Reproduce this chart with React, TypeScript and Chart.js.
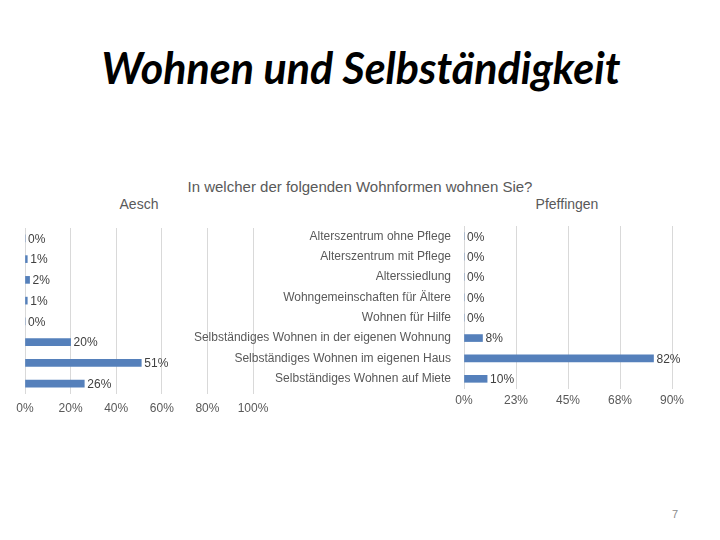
import React, { useEffect, useRef } from "react";
import { Chart, registerables } from "chart.js";

Chart.register(...registerables);

const categories = [
  "Alterszentrum ohne Pflege",
  "Alterszentrum mit Pflege",
  "Alterssiedlung",
  "Wohngemeinschaften für Ältere",
  "Wohnen für Hilfe",
  "Selbständiges Wohnen in der eigenen Wohnung",
  "Selbständiges Wohnen im eigenen Haus",
  "Selbständiges Wohnen auf Miete",
];
const aeschValues = [0, 1, 2, 1, 0, 20, 51, 26];
const pfeffingenValues = [0, 0, 0, 0, 0, 8, 82, 10];
const aeschMax = 100;
const aeschStep = 20;
const pfeffingenMax = 90;
const pfeffingenStep = 22.5;

const slideTitle = "Wohnen und Selbständigkeit";
const chartQuestion = "In welcher der folgenden Wohnformen wohnen Sie?";
const aeschTitle = "Aesch";
const pfeffingenTitle = "Pfeffingen";
const pageNumber = "7";

const FONT = '"Liberation Sans", Arial, sans-serif';
const BAR = "#5580bb";
const GRID = "#d9d9d9";
const AXIS_TEXT = "#595959";
const LABEL_TEXT = "#404040";

const valueLabels = {
  id: "valueLabels",
  afterDatasetsDraw(chart: any) {
    const ctx = chart.ctx;
    const meta = chart.getDatasetMeta(0);
    const data = chart.data.datasets[0].data;
    ctx.save();
    ctx.font = `12px ${FONT}`;
    ctx.fillStyle = LABEL_TEXT;
    ctx.textBaseline = "middle";
    ctx.textAlign = "left";
    meta.data.forEach((bar: any, i: number) => {
      ctx.fillText(`${data[i]}%`, bar.x + 3, bar.y + 1);
    });
    ctx.restore();
  },
};

function makeChart(
  canvas: HTMLCanvasElement,
  values: number[],
  max: number,
  step: number,
  showLabels: boolean,
  yWidth: number,
  padding: { top: number; right: number; bottom: number; left: number },
  xHeight: number,
  xPad: number
) {
  return new Chart(canvas, {
    type: "bar",
    data: {
      labels: categories,
      datasets: [
        {
          data: values,
          backgroundColor: BAR,
          barThickness: 7,
        },
      ],
    },
    plugins: [valueLabels],
    options: {
      indexAxis: "y",
      animation: false,
      responsive: false,
      layout: { padding },
      plugins: {
        legend: { display: false },
        tooltip: { enabled: false },
        title: { display: false },
      },
      scales: {
        x: {
          min: 0,
          max,
          afterBuildTicks: (scale: any) => {
            const t = [];
            for (let v = 0; v <= max + 1e-9; v += step) t.push({ value: v });
            scale.ticks = t;
          },
          afterFit: (scale: any) => {
            scale.height = xHeight;
          },
          grid: { color: GRID, drawTicks: false, lineWidth: 1 },
          border: { display: false },
          ticks: {
            color: AXIS_TEXT,
            font: { family: FONT, size: 12 },
            padding: xPad,
            maxRotation: 0,
            autoSkip: false,
            callback: (v: any) => `${Math.round(Number(v))}%`,
          },
        },
        y: {
          afterFit: (scale: any) => {
            scale.width = yWidth;
            scale.paddingTop = 0;
            scale.paddingBottom = 0;
          },
          grid: { display: false, drawTicks: false },
          border: { display: false },
          ticks: {
            display: showLabels,
            autoSkip: false,
            color: AXIS_TEXT,
            font: { family: FONT, size: 12 },
            padding: 13,
          },
        },
      },
    } as any,
  });
}

export default function App() {
  const leftRef = useRef<HTMLCanvasElement>(null);
  const rightRef = useRef<HTMLCanvasElement>(null);

  useEffect(() => {
    const left = makeChart(
      leftRef.current!,
      aeschValues,
      aeschMax,
      aeschStep,
      false,
      25,
      { top: 12, right: 47, bottom: 0, left: 0 },
      30,
      7
    );
    const right = makeChart(
      rightRef.current!,
      pfeffingenValues,
      pfeffingenMax,
      pfeffingenStep,
      true,
      284,
      { top: 10, right: 28, bottom: 0, left: 0 },
      30,
      4
    );
    return () => {
      left.destroy();
      right.destroy();
    };
  }, []);

  const text = (extra: React.CSSProperties): React.CSSProperties => ({
    position: "absolute",
    whiteSpace: "nowrap",
    fontFamily: FONT,
    ...extra,
  });

  return (
    <div
      style={{
        position: "fixed",
        left: 0,
        top: 0,
        width: 720,
        height: 540,
        background: "#ffffff",
        overflow: "hidden",
      }}
    >
      <div
        style={text({
          left: 0,
          width: 722,
          top: 44,
          textAlign: "center",
          fontFamily: "Lato, sans-serif",
          fontWeight: 700,
          fontStyle: "italic",
          fontSize: 43,
          lineHeight: "48px",
          color: "#000000",
        })}
      >
        {slideTitle}
      </div>
      <div
        style={text({
          left: 0,
          width: 720,
          top: 177,
          textAlign: "center",
          fontSize: 15,
          lineHeight: "19px",
          color: AXIS_TEXT,
        })}
      >
        {chartQuestion}
      </div>
      <div
        style={text({
          left: 89,
          width: 100,
          top: 195,
          textAlign: "center",
          fontSize: 14,
          lineHeight: "18px",
          color: AXIS_TEXT,
        })}
      >
        {aeschTitle}
      </div>
      <div
        style={text({
          left: 517,
          width: 100,
          top: 195,
          textAlign: "center",
          fontSize: 14,
          lineHeight: "18px",
          color: AXIS_TEXT,
        })}
      >
        {pfeffingenTitle}
      </div>
      <canvas
        ref={leftRef}
        width={300}
        height={208}
        style={{ position: "absolute", left: 0, top: 216, width: 300, height: 208 }}
      />
      <canvas
        ref={rightRef}
        width={520}
        height={203}
        style={{ position: "absolute", left: 180, top: 216, width: 520, height: 203 }}
      />
      <div
        style={text({
          left: 660,
          width: 30,
          top: 507,
          textAlign: "center",
          fontSize: 11,
          lineHeight: "14px",
          color: "#8c8c8c",
        })}
      >
        {pageNumber}
      </div>
    </div>
  );
}
